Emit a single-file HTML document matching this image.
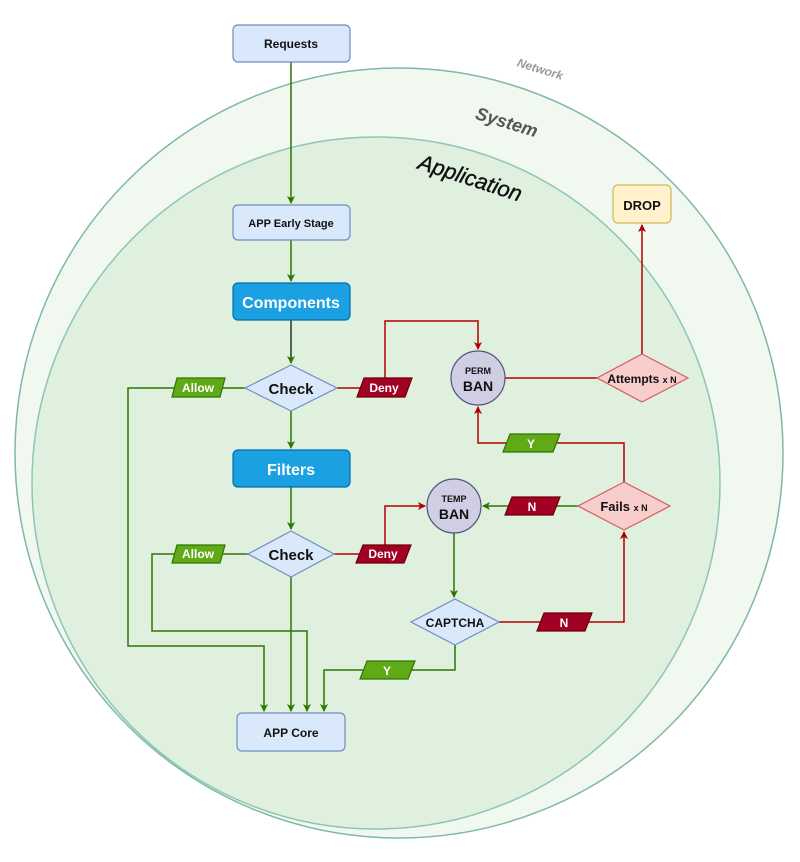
<!DOCTYPE html>
<html><head><meta charset="utf-8"><style>body{margin:0;background:#fff}svg{display:block}text{font-family:"Liberation Sans",sans-serif}</style></head>
<body>
<svg width="800" height="862" viewBox="0 0 800 862" xmlns="http://www.w3.org/2000/svg">
<defs>
<marker id="ag" markerWidth="8" markerHeight="8" refX="7" refY="4" orient="auto" markerUnits="userSpaceOnUse"><path d="M0,0 L8,4 L0,8 L2,4z" fill="#2d7600"/></marker>
<marker id="ar" markerWidth="8" markerHeight="8" refX="7" refY="4" orient="auto" markerUnits="userSpaceOnUse"><path d="M0,0 L8,4 L0,8 L2,4z" fill="#b20000"/></marker>
</defs>
<ellipse cx="399" cy="453" rx="384" ry="385" fill="#f1f8f0" stroke="#7fb8a8" stroke-width="1.5"/>
<ellipse cx="376" cy="483" rx="344" ry="346" fill="#dff0df" stroke="#8ec5b5" stroke-width="1.5"/>
<text x="539" y="73" font-size="12" font-weight="bold" font-style="italic" fill="#999" text-anchor="middle" transform="rotate(17 539 73)">Network</text>
<text x="505" y="128" font-size="18" font-weight="bold" font-style="italic" fill="#555" text-anchor="middle" transform="rotate(17 505 128)">System</text>
<text x="468" y="185" font-size="22" font-style="italic" fill="#111" stroke="#111" stroke-width="0.4" text-anchor="middle" transform="rotate(18 468 185)">Application</text>

<g fill="none" stroke-width="1.5">
<path d="M291,62 V203" stroke="#2d7600" marker-end="url(#ag)"/>
<path d="M291,240 V281" stroke="#2d7600" marker-end="url(#ag)"/>
<path d="M291,320 V363" stroke="#1e3d12" marker-end="url(#ag)"/>
<path d="M291,411 V448" stroke="#2d7600" marker-end="url(#ag)"/>
<path d="M291,487 V529" stroke="#2d7600" marker-end="url(#ag)"/>
<path d="M291,577 V711" stroke="#2d7600" marker-end="url(#ag)"/>
<path d="M245,388 H128 V646 H264 V711" stroke="#2d7600" marker-end="url(#ag)"/>
<path d="M248,554 H152 V631 H307 V711" stroke="#2d7600" marker-end="url(#ag)"/>
<path d="M455,645 V670 H324 V711" stroke="#2d7600" marker-end="url(#ag)"/>
<path d="M454,533 V597" stroke="#2d7600" marker-end="url(#ag)"/>
<path d="M578,506 H483" stroke="#2d7600" marker-end="url(#ag)"/>
<path d="M337,388 H385 V321 H478 V349" stroke="#b20000" marker-end="url(#ar)"/>
<path d="M334,554 H385 V506 H425" stroke="#b20000" marker-end="url(#ar)"/>
<path d="M597,378 H505" stroke="#b20000"/>
<path d="M642,354 V225" stroke="#b20000" marker-end="url(#ar)"/>
<path d="M624,482 V443 H478 V407" stroke="#b20000" marker-end="url(#ar)"/>
<path d="M499,622 H624 V532" stroke="#b20000" marker-end="url(#ar)"/>
</g>

<g stroke-width="1.2">
<rect x="233" y="25" width="117" height="37" rx="5" fill="#dae8fc" stroke="#6c8ebf"/>
<rect x="233" y="205" width="117" height="35" rx="5" fill="#dae8fc" stroke="#6c8ebf"/>
<rect x="233" y="283" width="117" height="37" rx="5" fill="#1ba1e2" stroke="#006eaf"/>
<rect x="233" y="450" width="117" height="37" rx="5" fill="#1ba1e2" stroke="#006eaf"/>
<rect x="237" y="713" width="108" height="38" rx="5" fill="#dae8fc" stroke="#6c8ebf"/>
<rect x="613" y="185" width="58" height="38" rx="5" fill="#fff2cc" stroke="#d6b656"/>
<path d="M291,365 L337,388 L291,411 L245,388z" fill="#dae8fc" stroke="#6c8ebf"/>
<path d="M291,531 L334,554 L291,577 L248,554z" fill="#dae8fc" stroke="#6c8ebf"/>
<path d="M455,599 L499,622 L455,645 L411,622z" fill="#dae8fc" stroke="#6c8ebf"/>
<path d="M642,354 L688,378 L642,402 L597,378z" fill="#f8cecc" stroke="#d95b5b"/>
<path d="M624,482 L670,506 L624,530 L578,506z" fill="#f8cecc" stroke="#d95b5b"/>
<circle cx="478" cy="378" r="27" fill="#d0cee2" stroke="#56517e"/>
<circle cx="454" cy="506" r="27" fill="#d0cee2" stroke="#56517e"/>
<path d="M177,378 H225 L220,397 H172z" fill="#60a917" stroke="#2d7600"/>
<path d="M177,545 H225 L220,563 H172z" fill="#60a917" stroke="#2d7600"/>
<path d="M510,434 H560 L553,452 H503z" fill="#60a917" stroke="#2d7600"/>
<path d="M367,661 H415 L408,679 H360z" fill="#60a917" stroke="#2d7600"/>
<path d="M364,378 H412 L405,397 H357z" fill="#a20025" stroke="#6f0000"/>
<path d="M363,545 H411 L404,563 H356z" fill="#a20025" stroke="#6f0000"/>
<path d="M512,497 H560 L553,515 H505z" fill="#a20025" stroke="#6f0000"/>
<path d="M544,613 H592 L585,631 H537z" fill="#a20025" stroke="#6f0000"/>
</g>

<g font-weight="bold" text-anchor="middle">
<text x="291" y="48" font-size="12" fill="#111">Requests</text>
<text x="291" y="227" font-size="11" fill="#111">APP Early Stage</text>
<text x="291" y="308" font-size="16" fill="#fff">Components</text>
<text x="291" y="475" font-size="16" fill="#fff">Filters</text>
<text x="291" y="737" font-size="12" fill="#111">APP Core</text>
<text x="642" y="210" font-size="13" fill="#111">DROP</text>
<text x="291" y="394" font-size="15" fill="#111">Check</text>
<text x="291" y="560" font-size="15" fill="#111">Check</text>
<text x="455" y="627" font-size="12" fill="#111">CAPTCHA</text>
<text x="642" y="383" font-size="12" fill="#111">Attempts <tspan font-size="9">x N</tspan></text>
<text x="624" y="511" font-size="13" fill="#111">Fails <tspan font-size="9">x N</tspan></text>
<text x="478" y="374" font-size="9" fill="#111">PERM</text>
<text x="478" y="391" font-size="14" fill="#111">BAN</text>
<text x="454" y="502" font-size="9" fill="#111">TEMP</text>
<text x="454" y="519" font-size="14" fill="#111">BAN</text>
<text x="198" y="392" font-size="12" fill="#fff">Allow</text>
<text x="198" y="558" font-size="12" fill="#fff">Allow</text>
<text x="384" y="392" font-size="12" fill="#fff">Deny</text>
<text x="383" y="558" font-size="12" fill="#fff">Deny</text>
<text x="531" y="448" font-size="12" fill="#fff">Y</text>
<text x="387" y="675" font-size="12" fill="#fff">Y</text>
<text x="532" y="511" font-size="12" fill="#fff">N</text>
<text x="564" y="627" font-size="12" fill="#fff">N</text>
</g>
</svg>
</body></html>
